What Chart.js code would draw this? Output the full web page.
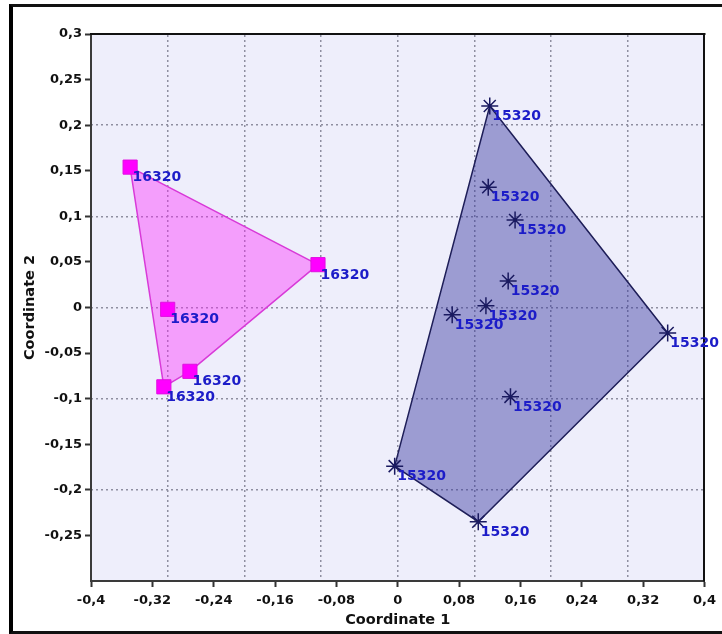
<!DOCTYPE html>
<html>
<head>
<meta charset="utf-8">
<script src="https://cdn.jsdelivr.net/npm/chart.js@4/dist/chart.umd.min.js"></script>
<style>
  html, body { margin: 0; padding: 0; background: #fff; }
  #wrap { position: relative; width: 722px; height: 634px; overflow: hidden; }
  #frame { position: absolute; left: 9px; top: 4px; width: 760px; height: 624px;
           border-left: 4px solid #000; border-top: 3px solid #111; border-bottom: 3px solid #111; }
  canvas { position: absolute; left: 0; top: 0; }
</style>
</head>
<body>
<div id="wrap">
  <div id="frame"></div>
  <canvas id="c" width="722" height="634"></canvas>
</div>
<script>
// Group 16320 (squares)
const pinkX = [-0.349, -0.104, -0.300, -0.271, -0.305];
const pinkY = [0.154, 0.047, -0.002, -0.070, -0.087];
const pinkHull = [0, 1, 3, 4];
const pinkLabel = '16320';

// Group 15320 (stars)
const blueX = [0.120, 0.118, 0.153, 0.144, 0.115, 0.071, 0.352, 0.147, -0.004, 0.105];
const blueY = [0.221, 0.132, 0.096, 0.029, 0.002, -0.008, -0.028, -0.098, -0.174, -0.235];
const blueHull = [0, 6, 9, 8];
const blueLabel = '15320';

// Axis ticks and grid steps
const xTicks = [-0.4, -0.32, -0.24, -0.16, -0.08, 0, 0.08, 0.16, 0.24, 0.32, 0.4];
const yTicks = [0.3, 0.25, 0.2, 0.15, 0.1, 0.05, 0, -0.05, -0.1, -0.15, -0.2, -0.25];
const xGrid = [-0.3, -0.2, -0.1, 0, 0.1, 0.2, 0.3];
const yGrid = [0.2, 0.1, 0, -0.1, -0.2];

const toPoints = (xs, ys) => xs.map((x, i) => ({ x: x, y: ys[i] }));
const hullPoints = (xs, ys, idx) => idx.concat(idx[0]).map(i => ({ x: xs[i], y: ys[i] }));
const fmt = v => String(Math.round(v * 100) / 100).replace('.', ',');
const setTicks = list => scale => { scale.ticks = list.map(v => ({ value: v })); };

Chart.defaults.font.family = "'DejaVu Sans', sans-serif";

const plotBackground = {
  id: 'plotBackground',
  beforeDraw(chart) {
    const { ctx, chartArea: a } = chart;
    ctx.save();
    ctx.fillStyle = '#eeeefb';
    ctx.fillRect(a.left, a.top, a.right - a.left, a.bottom - a.top);
    ctx.restore();
  }
};

// Writes each group's name next to its points
const pointNames = {
  id: 'pointNames',
  afterDatasetsDraw(chart) {
    const ctx = chart.ctx;
    ctx.save();
    ctx.font = "bold 14px 'DejaVu Sans', sans-serif";
    ctx.fillStyle = '#1c1cc8';
    ctx.textAlign = 'left';
    ctx.textBaseline = 'alphabetic';
    chart.data.datasets.forEach((ds, di) => {
      if (!ds.pointName) return;
      chart.getDatasetMeta(di).data.forEach(el => {
        ctx.fillText(ds.pointName, el.x + 2.5, el.y + 14);
      });
    });
    ctx.restore();
  }
};

new Chart(document.getElementById('c'), {
  type: 'scatter',
  data: {
    datasets: [
      {
        label: pinkLabel,
        pointName: pinkLabel,
        data: toPoints(pinkX, pinkY),
        pointStyle: 'rect',
        radius: 10,
        backgroundColor: '#ff00ff',
        borderColor: '#e010e0',
        borderWidth: 1,
        order: 1
      },
      {
        label: blueLabel,
        pointName: blueLabel,
        data: toPoints(blueX, blueY),
        pointStyle: 'star',
        radius: 8.5,
        backgroundColor: '#1a1a60',
        borderColor: '#1a1a60',
        borderWidth: 1.5,
        order: 1
      },
      {
        type: 'line',
        data: hullPoints(pinkX, pinkY, pinkHull),
        fill: 'shape',
        backgroundColor: 'rgba(255, 30, 255, 0.38)',
        borderColor: '#d83ad8',
        borderWidth: 1.5,
        pointRadius: 0,
        tension: 0,
        order: 2
      },
      {
        type: 'line',
        data: hullPoints(blueX, blueY, blueHull),
        fill: 'shape',
        backgroundColor: 'rgba(55, 55, 160, 0.45)',
        borderColor: '#1e1e58',
        borderWidth: 1.5,
        pointRadius: 0,
        tension: 0,
        order: 2
      }
    ]
  },
  options: {
    responsive: false,
    animation: false,
    devicePixelRatio: 1,
    layout: { padding: { left: 14, right: 17, top: 34, bottom: 5 } },
    plugins: { legend: { display: false }, tooltip: { enabled: false } },
    scales: {
      x: {
        type: 'linear',
        position: 'bottom',
        min: -0.4, max: 0.4,
        afterBuildTicks: setTicks(xTicks),
        afterFit: s => { s.height = 48; },
        grid: { drawOnChartArea: false, drawTicks: true, tickLength: 6, tickColor: '#333', tickWidth: 2 },
        border: { display: true, color: '#3a3a3a', width: 2 },
        ticks: { callback: v => fmt(v), color: '#111', font: { size: 13, weight: 'bold' }, padding: 6, maxRotation: 0, autoSkip: false },
        title: { display: true, text: 'Coordinate 1', color: '#111', font: { size: 14.5, weight: 'bold' }, padding: { top: 0, bottom: 0 } }
      },
      y: {
        type: 'linear',
        position: 'left',
        min: -0.3, max: 0.3,
        afterBuildTicks: setTicks(yTicks),
        afterFit: s => { s.width = 77; },
        grid: { drawOnChartArea: false, drawTicks: true, tickLength: 6, tickColor: '#333', tickWidth: 2 },
        border: { display: true, color: '#3a3a3a', width: 2 },
        ticks: { callback: v => fmt(v), color: '#111', font: { size: 13, weight: 'bold' }, padding: 3, autoSkip: false },
        title: { display: true, text: 'Coordinate 2', color: '#111', font: { size: 14.5, weight: 'bold' }, padding: { top: 8, bottom: 0 } }
      },
      // Dotted 0.1-step grid, plus the top and right frame lines of the plot
      x2: {
        type: 'linear',
        position: 'top',
        min: -0.4, max: 0.4,
        afterBuildTicks: setTicks(xGrid),
        afterFit: s => { s.height = 0; },
        grid: { color: '#8e8ea0', lineWidth: 1.5, drawTicks: false },
        border: { display: true, color: '#111', width: 2, dash: [2, 3] },
        ticks: { display: false }
      },
      y2: {
        type: 'linear',
        position: 'right',
        min: -0.3, max: 0.3,
        afterBuildTicks: setTicks(yGrid),
        afterFit: s => { s.width = 0; },
        grid: { color: '#8e8ea0', lineWidth: 1.5, drawTicks: false },
        border: { display: true, color: '#111', width: 2, dash: [2, 3] },
        ticks: { display: false }
      }
    }
  },
  plugins: [plotBackground, pointNames]
});
</script>
</body>
</html>
